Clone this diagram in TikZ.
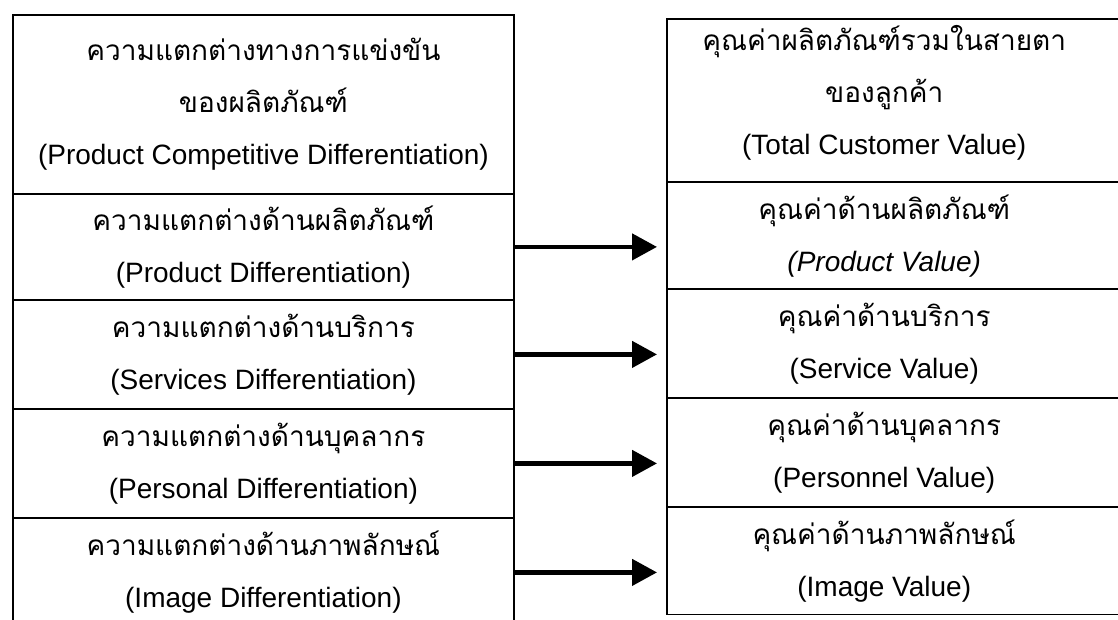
\documentclass[tikz,border=0pt]{standalone}
\usepackage{fontspec}
\setmainfont{Liberation Sans}
\newfontfamily\thai[Script=Thai]{Loma}
\usetikzlibrary{arrows.meta}
\tikzset{
  lbox/.style={draw, line width=1.8pt, inner sep=0pt, anchor=north west, minimum width=501pt, align=center, font=\fontsize{28}{52}\selectfont},
  rbox/.style={inner sep=0pt, anchor=north west, minimum width=434pt, align=center, font=\fontsize{28}{52}\selectfont},
  frame/.style={line width=1.8pt},
  arr/.style={line width=4.5pt, -{Triangle[length=25pt,width=26pt]}, shorten >=10pt}
}
\begin{document}
\begin{tikzpicture}[x=1pt,y=1pt]
\useasboundingbox (0,0) rectangle (1118,-619);
% left column
\node[lbox, minimum height=179pt] (l1) at (12,-14) {{\thai ความแตกต่างทางการแข่งขัน}\\{\thai ของผลิตภัณฑ์}\\(Product Competitive Differentiation)};
\node[lbox, minimum height=106pt] (l2) at (12,-193) {{\thai ความแตกต่างด้านผลิตภัณฑ์}\\(Product Differentiation)};
\node[lbox, minimum height=109pt] (l3) at (12,-299) {{\thai ความแตกต่างด้านบริการ}\\(Services Differentiation)};
\node[lbox, minimum height=109pt] (l4) at (12,-408) {{\thai ความแตกต่างด้านบุคลากร}\\(Personal Differentiation)};
\node[lbox, minimum height=109pt] (l5) at (12,-517) {{\thai ความแตกต่างด้านภาพลักษณ์}\\(Image Differentiation)};
% right column
\node[rbox, minimum height=143pt] (r1) at (667,-21) {{\thai คุณค่าผลิตภัณฑ์รวมในสายตา}\\{\thai ของลูกค้า}\\(Total Customer Value)};
\node[rbox, minimum height=107pt] (r2) at (667,-182) {{\thai คุณค่าด้านผลิตภัณฑ์}\\\textit{(Product Value)}};
\node[rbox, minimum height=109pt] (r3) at (667,-289) {{\thai คุณค่าด้านบริการ}\\(Service Value)};
\node[rbox, minimum height=109pt] (r4) at (667,-398) {{\thai คุณค่าด้านบุคลากร}\\(Personnel Value)};
\node[rbox, minimum height=107pt] (r5) at (667,-507) {{\thai คุณค่าด้านภาพลักษณ์}\\(Image Value)};
\draw[frame] ([yshift=2pt]r1.north west) rectangle ([xshift=30pt]r2.north east);
\foreach \n in {r2,r3,r4,r5}{
  \draw[frame] (\n.north west) rectangle ([xshift=30pt]\n.south east);
}
% arrows
\foreach \a/\b in {l2/r2,l3/r3,l4/r4,l5/r5}{
  \draw[arr] (\a.east) -- (\a.east -| \b.west);
}
\end{tikzpicture}
\end{document}
